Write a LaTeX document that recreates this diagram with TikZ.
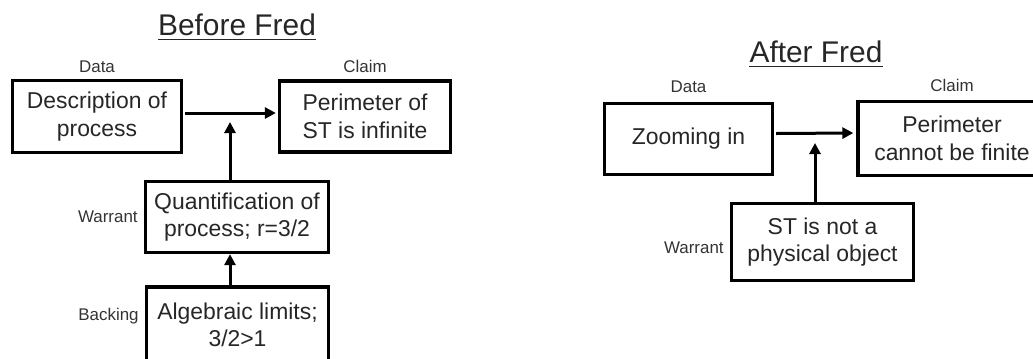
\documentclass[tikz,border=0pt]{standalone}
\usepackage{fontspec}
\setmainfont{Liberation Sans}
\usepackage{tikz}
\usetikzlibrary{arrows.meta}
\usetikzlibrary{positioning}

\begin{document}
\begin{tikzpicture}[x=1bp,y=-1bp,
			box node/.style={rectangle,draw,line width=3.3bp,align=center,
				inner sep=0pt,font=\fontsize{23}{27.5}\selectfont,text=black!85},
			label node/.style={inner sep=0pt,font=\fontsize{17}{20}\selectfont,text=black!80},
			title node/.style={inner sep=0pt,font=\fontsize{30}{35}\selectfont,text=black!85},
			arr/.style={-{Triangle[length=11bp,width=11bp]},line width=3bp}]
	\useasboundingbox (0,0) rectangle (1033,358);
	
	% before
	\node[title node,anchor=base] (T1) at (237,35) {Before Fred};
	\draw[line width=1.5bp,black!85] ([yshift=-4bp]T1.south west) -- ([yshift=-4bp]T1.south east);
	\node[box node,minimum width=169bp,minimum height=72bp] (A) at (97,116.5) {Description of\\process};
	\node[box node,minimum width=171bp,minimum height=71bp] (B) at (365,116.5) {Perimeter of\\ST is infinite};
	\node[box node,minimum width=183bp,minimum height=71bp] (C) at (237,217) {Quantification of\\process; r=3/2};
	\node[box node,minimum width=182bp,minimum height=76bp] (D) at (237.5,325) {Algebraic limits;\\3/2>1};
	\node[label node,above=6bp of A] {Data};
	\node[label node,above=6bp of B] {Claim};
	\node[label node,left=6bp of C] {Warrant};
	\node[label node,left=6bp of D,yshift=9bp] {Backing};
	\coordinate (P) at (230,122);
	\draw[arr] ([xshift=2bp,yshift=3.5bp]A.east) -- ([xshift=-2bp,yshift=3.5bp]B.west);
	\draw[arr] (P |- C.north) -- (P);
	\draw[arr] (P |- D.north) -- (P |- C.south);
	
	% after
	\node[title node,anchor=base] (T2) at (816,62) {After Fred};
	\draw[line width=1.5bp,black!85] ([yshift=-4bp]T2.south west) -- ([yshift=-4bp]T2.south east);
	\node[box node,minimum width=168bp,minimum height=71bp] (E) at (688.5,139) {Zooming in};
	\node[box node,minimum width=188bp,minimum height=74bp] (F) at (952,138.5) {Perimeter\\cannot be finite};
	\node[box node,minimum width=182bp,minimum height=77bp] (G) at (822.5,242) {ST is not a\\physical object};
	\node[label node,above=9bp of E] {Data};
	\node[label node,above=8bp of F] {Claim};
	\node[label node,left=6bp of G,yshift=-6bp] {Warrant};
	\coordinate (Q) at (815,143);
	\draw[arr] ([xshift=2bp,yshift=5.5bp]E.east) -- ([xshift=-3bp,yshift=5.5bp]F.west);
	\draw[arr] (Q |- G.north) -- (Q);
\end{tikzpicture}
\end{document}
